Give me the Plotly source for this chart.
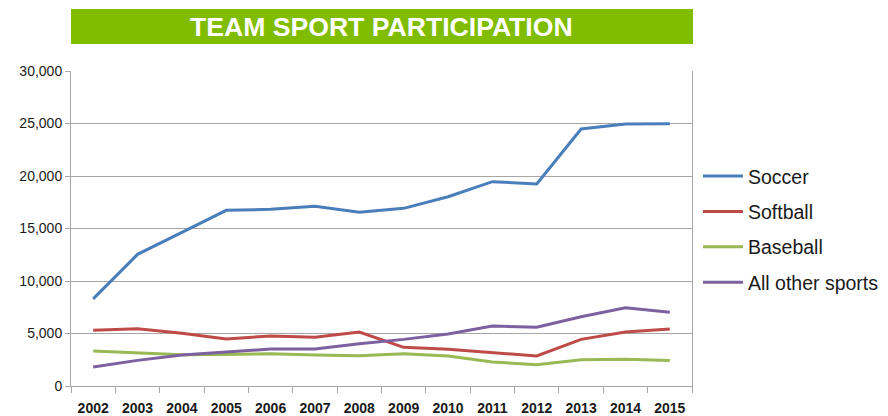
import plotly.graph_objects as go

years = ["2002", "2003", "2004", "2005", "2006", "2007", "2008",
         "2009", "2010", "2011", "2012", "2013", "2014", "2015"]
soccer = [8300, 12540, 14630, 16730, 16830, 17110, 16540,
          16920, 18030, 19460, 19240, 24480, 24950, 24980]
softball = [5300, 5460, 5020, 4480, 4760, 4640, 5140,
            3680, 3490, 3210, 2860, 4440, 5140, 5430]
baseball = [3330, 3180, 2980, 3000, 3080, 2950, 2890,
            3080, 2860, 2290, 2030, 2510, 2540, 2440]
other = [1810, 2440, 2950, 3270, 3520, 3520, 4030,
         4440, 4950, 5710, 5590, 6600, 7460, 7020]

series = [
    ("Soccer", soccer, "#4A7EBB"),
    ("Softball", softball, "#BE4B48"),
    ("Baseball", baseball, "#98B954"),
    ("All other sports", other, "#7D60A0"),
]
y_ticks = [0, 5000, 10000, 15000, 20000, 25000, 30000]
y_tick_text = ["0", "5,000", "10,000", "15,000", "20,000", "25,000", "30,000"]

fig = go.Figure()
for name, vals, color in series:
    fig.add_trace(go.Scatter(
        x=years, y=vals, name=name, mode="lines",
        line=dict(color=color, width=3),
        legendgroup=name,
    ))

grid = "#A6A6A6"
fig.update_layout(
    width=888, height=416,
    margin=dict(l=63, r=202, t=63, b=38),
    paper_bgcolor="white", plot_bgcolor="white",
    font=dict(family="Liberation Sans, Arial, sans-serif", color="#1a1a1a"),
    showlegend=True,
    legend=dict(
        x=1.0096, xanchor="left", y=0.497, yanchor="middle",
        font=dict(size=19.5, color="#1a1a1a"),
        traceorder="grouped", tracegroupgap=7, itemwidth=40,
        bgcolor="rgba(0,0,0,0)",
    ),
    xaxis=dict(
        type="category", tickson="boundaries",
        showgrid=False, showline=True, linecolor=grid, linewidth=1,
        ticks="outside", ticklen=6, tickcolor=grid,
        tickfont=dict(size=14, weight="bold", color="#1a1a1a"),
        ticklabelstandoff=9, automargin=False,
        range=[-0.5, 13.5],
    ),
    yaxis=dict(
        range=[0, 30000], tickvals=y_ticks, ticktext=y_tick_text,
        showgrid=True, gridcolor=grid, gridwidth=1,
        showline=True, mirror=True, linecolor=grid, linewidth=1,
        ticks="outside", ticklen=5, tickcolor=grid,
        tickfont=dict(size=14, color="#1a1a1a"),
        zeroline=False, automargin=False,
    ),
)

fig.add_shape(type="rect", xref="paper", yref="paper",
              x0=0, x1=1.0016, y0=1.0857, y1=1.197,
              fillcolor="#80BC00", line=dict(width=0), layer="below")
fig.add_annotation(text="<b>TEAM SPORT PARTICIPATION</b>",
                   xref="paper", yref="paper", x=0.5, y=1.141,
                   xanchor="center", yanchor="middle", showarrow=False,
                   font=dict(size=26.6, color="white",
                             family="Liberation Sans, Arial, sans-serif"))

fig.write_html("out.html")
